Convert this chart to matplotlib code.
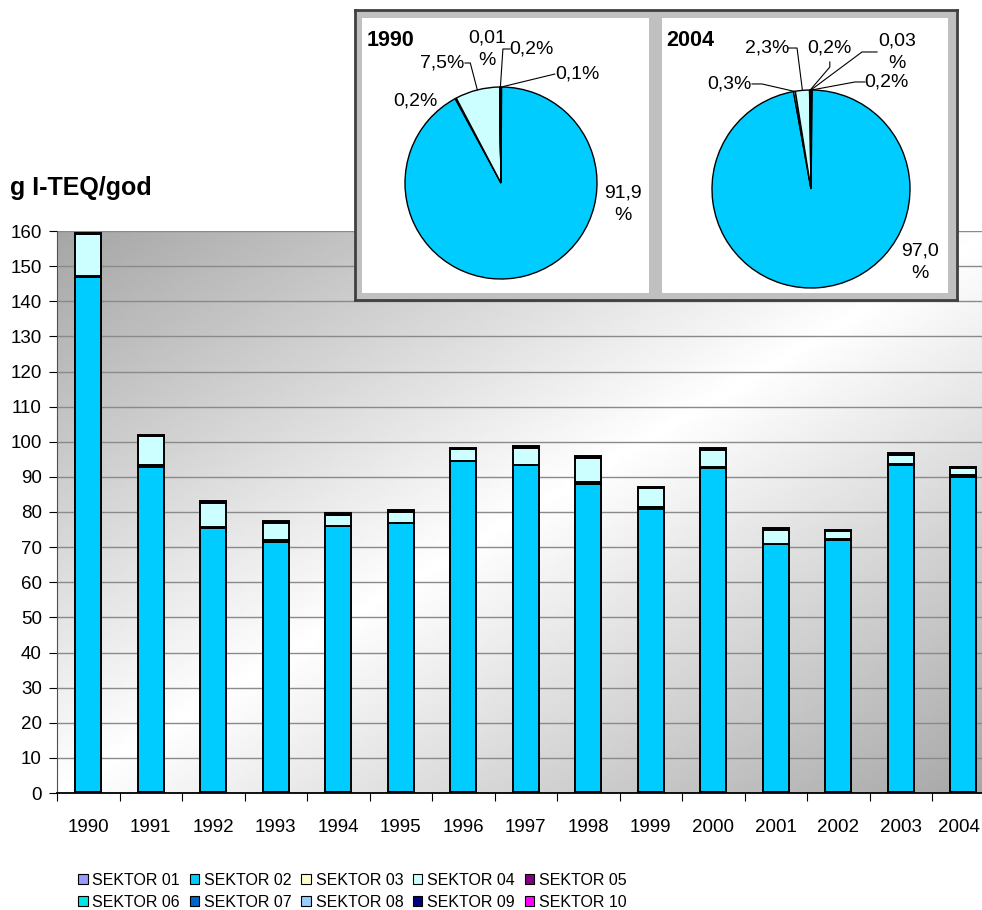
# dioxin emissions by sector, 1990-2004, with pie insets for 1990 and 2004
import numpy as np
import matplotlib
matplotlib.use('Agg')
import matplotlib.pyplot as plt
import matplotlib.transforms as mtransforms
from matplotlib.patches import Patch

plt.rcParams['font.family'] = ['Liberation Sans', 'DejaVu Sans']

# data
years = [str(y) for y in range(1990, 2005)]
sectors = ['SEKTOR 01', 'SEKTOR 02', 'SEKTOR 03', 'SEKTOR 04', 'SEKTOR 05',
           'SEKTOR 06', 'SEKTOR 07', 'SEKTOR 08', 'SEKTOR 09', 'SEKTOR 10']
colors = ['#9999FF', '#00CCFF', '#FFFFCC', '#CCFFFF', '#800080',
          '#00E5E5', '#0066CC', '#99CCFF', '#000080', '#FF00FF']

s01 = [0.2, 0.2, 0.2, 0.2, 0.2, 0.2, 0.2, 0.2, 0.2, 0.2, 0.2, 0.2, 0.2, 0.4, 0.2]
s02 = [146.7, 92.5, 75.3, 71.2, 75.7, 76.7, 94.3, 93.1, 87.7, 80.6, 92.4, 70.6, 71.8, 92.9, 89.9]
s03 = [0.3, 0.6, 0.1, 0.5, 0.1, 0.1, 0.1, 0.1, 0.5, 0.5, 0.1, 0.1, 0.4, 0.5, 0.3]
s04 = [12.0, 8.3, 7.1, 5.1, 3.2, 3.1, 3.3, 4.8, 7.0, 5.4, 5.0, 4.0, 2.3, 2.5, 2.1]
s05 = [0.02, 0, 0, 0, 0, 0, 0, 0, 0, 0, 0, 0, 0, 0, 0.2]
s06 = [0] * 15
s07 = [0] * 15
s08 = [0] * 15
s09 = [0.3, 0.2, 0.5, 0.5, 0.4, 0.5, 0.4, 0.6, 0.5, 0.5, 0.5, 0.5, 0.3, 0.5, 0.03]
s10 = [0] * 15
series = [s01, s02, s03, s04, s05, s06, s07, s08, s09, s10]

yticks = list(range(0, 161, 10))

# pie shares (%) and their labels
pie1990 = [0.1, 91.9, 0.2, 7.5, 0.01, 0, 0, 0, 0.2, 0]
lab1990 = ['0,1%', '91,9\n%', '0,2%', '7,5%', '0,01\n%', '', '', '', '0,2%', '']
pie2004 = [0.2, 97.0, 0.3, 2.3, 0.2, 0, 0, 0, 0.03, 0]
lab2004 = ['0,2%', '97,0\n%', '0,3%', '2,3%', '0,2%', '', '', '', '0,03\n%', '']

W, H = 982, 910
fig = plt.figure(figsize=(W / 100, H / 100), dpi=100)

def fx(px):
    return px / W

def fy(py):
    return 1 - py / H

# ---- main bar chart
ax = fig.add_axes([fx(57), fy(793), (994.5 - 57) / W, (793 - 231) / H])
x = np.arange(len(years))

# diagonal gradient background: dark corners, white middle
gx = np.linspace(0, 1, 300)
gy = np.linspace(0, 1, 200)
GX, GY = np.meshgrid(gx, gy)
v = (GX + GY) / 2
grad = 1 - 0.35 * np.abs(2 * v - 1)
ax.imshow(grad, cmap='gray', vmin=0, vmax=1, extent=(-0.5, 14.5, 0, 160),
          aspect='auto', interpolation='bilinear', zorder=0, origin='upper')

ax.set_axisbelow(True)
ax.yaxis.grid(True, color='#8a8a8a', lw=1)

bottom = np.zeros(len(years))
for vals, col in zip(series, colors):
    vals = np.array(vals, dtype=float)
    m = vals > 0
    if m.any():
        ax.bar(x[m], vals[m], width=0.41, bottom=bottom[m], color=col,
               edgecolor='black', linewidth=1.4, zorder=2)
    bottom += vals

ax.set_xlim(-0.5, 14.5)
ax.set_ylim(0, 160)
ax.set_yticks(yticks)
ax.tick_params(axis='y', labelsize=13.5, length=6, pad=5, direction='out')
ax.set_xticks(np.arange(-0.5, 15, 1))
ax.set_xticklabels([])
ax.set_xticks(x, minor=True)
xlabels = ax.set_xticklabels(years, minor=True)
ax.tick_params(axis='x', which='major', length=6, direction='out')
ax.tick_params(axis='x', which='minor', length=0, pad=19, labelsize=13.5)
# last label sits at the figure edge, nudge it inside
shift = mtransforms.ScaledTranslation(-4 / 100, 0, fig.dpi_scale_trans)
xlabels[-1].set_transform(xlabels[-1].get_transform() + shift)
for s in ['top', 'right']:
    ax.spines[s].set_visible(False)
ax.spines['bottom'].set_linewidth(1.3)
ax.spines['left'].set_color('#505050')

fig.text(fx(10), fy(188), 'g I-TEQ/god', fontsize=18, fontweight='bold',
         va='center', ha='left')

# legend, row-wise order in 2 rows x 5 columns
handles = [Patch(facecolor=c, edgecolor='black', lw=0.8, label=s)
           for s, c in zip(sectors, colors)]
order = [0, 5, 1, 6, 2, 7, 3, 8, 4, 9]
fig.legend([handles[i] for i in order], [sectors[i] for i in order],
           ncol=5, loc='upper left', bbox_to_anchor=(fx(78), fy(873)),
           frameon=False, fontsize=11.5, handlelength=0.6, handleheight=0.6,
           handletextpad=0.3, columnspacing=0.6, labelspacing=0.42,
           borderpad=0, borderaxespad=0)

# ---- pie inset frame
box = fig.add_axes([fx(355), fy(300), (957 - 355) / W, (300 - 10) / H], zorder=3)
box.set_facecolor('#c0c0c0')
box.set_xticks([])
box.set_yticks([])
for s in box.spines.values():
    s.set_color('#404040')
    s.set_linewidth(2)


def draw_pie(panel, center, r, vals, labels, title, label_pos, leaders):
    x0, y0, x1, y1 = panel
    cx, cy = center
    pa = fig.add_axes([fx(x0), fy(y1), (x1 - x0) / W, (y1 - y0) / H], zorder=4)
    pa.pie(vals, colors=colors, startangle=90, counterclock=False,
           wedgeprops=dict(edgecolor='black', linewidth=1))
    pa.set_frame_on(True)
    pa.set_facecolor('white')
    pa.set_xlim((x0 - cx) / r, (x1 - cx) / r)
    pa.set_ylim(-(y1 - cy) / r, (cy - y0) / r)
    pa.set_aspect('auto')
    pa.set_xticks([])
    pa.set_yticks([])
    for s in pa.spines.values():
        s.set_visible(False)
    pa.text(0.015, 0.955, title, transform=pa.transAxes, fontsize=15.5,
            fontweight='bold', va='top', ha='left')
    total = sum(vals)
    cum = np.cumsum([0] + list(vals))
    for i, lab in enumerate(labels):
        if not lab:
            continue
        tx, ty = label_pos[i]
        pa.text(tx, ty, lab, fontsize=14, ha='center', va='center',
                linespacing=1.45)
        if i in leaders:
            mid = 90 - (cum[i] + vals[i] / 2) / total * 360
            ex, ey = np.cos(np.radians(mid)), np.sin(np.radians(mid))
            pts = leaders[i] + [(ex, ey)]
            pa.plot([p[0] for p in pts], [p[1] for p in pts], color='black',
                    lw=0.8)
    return pa


draw_pie((362, 18, 649, 293), (501, 183), 96, pie1990, lab1990, '1990',
         {0: (0.80, 1.135), 1: (1.27, -0.22), 2: (-0.89, 0.854),
          3: (-0.61, 1.25), 4: (-0.146, 1.396), 8: (0.32, 1.396)},
         {0: [(0.56, 1.135)],
          3: [(-0.375, 1.25), (-0.32, 1.25)],
          8: [(0.094, 1.396), (0.02, 1.396)]})

draw_pie((662, 18, 948, 293), (811, 189), 99, pie2004, lab2004, '2004',
         {0: (0.765, 1.081), 1: (1.10, -0.737), 2: (-0.825, 1.06),
          3: (-0.44, 1.424), 4: (0.185, 1.424), 8: (0.87, 1.384)},
         {0: [(0.545, 1.081), (0.444, 1.081)],
          2: [(-0.596, 1.061), (-0.495, 1.061)],
          3: [(-0.232, 1.424), (-0.141, 1.424)],
          4: [(0.19, 1.283), (0.19, 1.232)],
          8: [(0.667, 1.384), (0.515, 1.384)]})

fig.savefig('out.png', dpi=100)
